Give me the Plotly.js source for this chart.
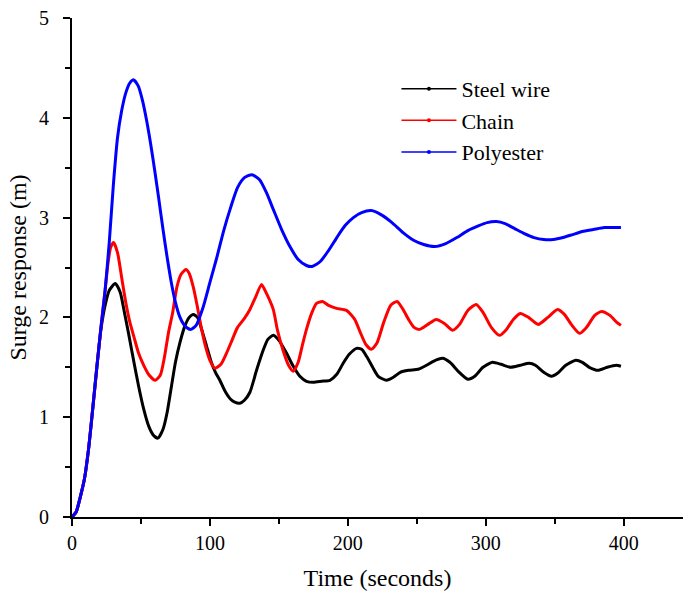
<!DOCTYPE html>
<html>
<head>
<meta charset="utf-8">
<script src="https://cdn.plot.ly/plotly-3.0.1.min.js"></script>
<style>html,body{margin:0;padding:0;background:#fff;}#chart{width:683px;height:592px;}</style>
</head>
<body>
<div id="chart"></div>
<script>
// Time (s) and surge response (m)
const steelT = [0, 3, 6, 9, 12, 15, 18, 21, 24, 27, 31.4, 35, 38, 41, 44.5, 48.3, 52, 55.6, 59, 62.3, 66, 69, 72, 75, 78.3, 82, 85, 87.9, 91, 94, 97.6, 101, 104, 107.2, 111, 115, 118, 121.7, 125, 129, 133.8, 138.6, 142, 146, 150, 155.6, 160, 165.2, 170, 175, 181, 187, 192, 196.6, 201, 206.3, 210, 214, 218, 222, 228, 233, 238, 244, 251, 257, 262, 268.6, 274, 280, 287, 292, 298, 304.8, 311, 318, 325, 331.4, 336, 342, 347.6, 352, 358, 365.2, 370, 375, 381.4, 388, 394.7, 398];
const steelV = [0, 0.05, 0.2, 0.38, 0.68, 1.08, 1.5, 1.88, 2.12, 2.27, 2.34, 2.25, 2.05, 1.84, 1.58, 1.31, 1.08, 0.91, 0.82, 0.79, 0.88, 1.05, 1.3, 1.55, 1.75, 1.92, 2.0, 2.03, 2.0, 1.88, 1.71, 1.55, 1.45, 1.37, 1.26, 1.18, 1.15, 1.14, 1.17, 1.25, 1.47, 1.67, 1.78, 1.82, 1.77, 1.64, 1.52, 1.41, 1.36, 1.35, 1.36, 1.37, 1.43, 1.54, 1.63, 1.69, 1.68, 1.6, 1.5, 1.41, 1.37, 1.4, 1.45, 1.47, 1.48, 1.52, 1.56, 1.59, 1.55, 1.46, 1.38, 1.41, 1.5, 1.55, 1.53, 1.50, 1.52, 1.54, 1.52, 1.45, 1.41, 1.44, 1.52, 1.57, 1.55, 1.5, 1.47, 1.50, 1.52, 1.51];

const chainT = [0, 3, 6, 9, 12, 15, 18, 21, 24, 26, 28, 30.2, 33, 36, 39, 42, 45, 48.3, 52, 56, 60.4, 64, 67, 70, 73, 76, 79, 82.6, 85, 88, 91, 94, 97, 100, 103.6, 108, 112, 116, 120, 125, 129, 133, 137.4, 141, 145.9, 149, 153, 157, 160.4, 164, 167, 170, 174, 177.3, 181.6, 186, 191.8, 199, 205, 208.7, 213, 217, 221, 226, 231, 235.7, 240, 244, 248, 252, 258, 264, 270, 276, 281, 287, 293, 298, 304, 310, 315, 320, 325, 331, 338, 345, 352, 357, 362, 368, 373, 379, 384, 390, 395, 398];
const chainV = [0, 0.05, 0.2, 0.38, 0.68, 1.08, 1.5, 1.9, 2.27, 2.53, 2.7, 2.75, 2.65, 2.4, 2.15, 1.95, 1.8, 1.64, 1.52, 1.42, 1.37, 1.42, 1.6, 1.85, 2.05, 2.3, 2.43, 2.48, 2.44, 2.3, 2.1, 1.88, 1.7, 1.57, 1.49, 1.53, 1.64, 1.77, 1.9, 1.99, 2.08, 2.2, 2.33, 2.24, 2.08, 1.87, 1.67, 1.52, 1.46, 1.55, 1.72, 1.88, 2.05, 2.14, 2.16, 2.12, 2.09, 2.07, 1.98, 1.86, 1.73, 1.68, 1.74, 1.95, 2.12, 2.16, 2.08, 1.98, 1.9, 1.88, 1.93, 1.98, 1.94, 1.87, 1.93, 2.07, 2.13, 2.05, 1.9, 1.82, 1.88, 1.98, 2.04, 2.0, 1.93, 2.0, 2.08, 2.03, 1.93, 1.84, 1.9, 2.02, 2.06, 2.02, 1.95, 1.92];

const polyT = [0, 3, 6, 9, 12, 15, 18, 21, 24, 27, 30, 33, 36, 39, 42, 44.7, 48, 51, 54, 57, 60, 63, 66, 69, 72, 75, 78, 81, 84, 86.3, 90, 95, 100, 105, 110, 115, 120, 125, 130.5, 136, 141, 146, 152, 158, 164, 170, 174, 180, 186, 192, 198, 204, 210, 217, 224, 232, 240, 248, 255, 263, 271, 279, 287, 295, 301, 307.7, 314, 321, 328, 335, 342, 349, 356, 363, 370, 378, 386, 392, 398];
const polyV = [0, 0.05, 0.2, 0.38, 0.68, 1.08, 1.5, 1.9, 2.27, 2.75, 3.33, 3.8, 4.07, 4.25, 4.35, 4.38, 4.32, 4.18, 3.98, 3.74, 3.47, 3.18, 2.88, 2.6, 2.35, 2.15, 2.01, 1.93, 1.89, 1.88, 1.92, 2.1, 2.35, 2.6, 2.87, 3.1, 3.3, 3.4, 3.43, 3.38, 3.25, 3.08, 2.88, 2.71, 2.58, 2.52, 2.51, 2.56, 2.67, 2.8, 2.92, 3.0, 3.05, 3.07, 3.03, 2.95, 2.85, 2.77, 2.73, 2.71, 2.74, 2.8, 2.87, 2.92, 2.95, 2.96, 2.94, 2.89, 2.84, 2.8, 2.78, 2.78, 2.8, 2.83, 2.86, 2.88, 2.9, 2.9, 2.9];

const seriesNames = ['Steel wire', 'Chain', 'Polyester'];
const seriesColors = ['#000000', '#ff0000', '#0000ff'];
const xTicks = [0, 100, 200, 300, 400];
const yTicks = [0, 1, 2, 3, 4, 5];

const xs = [steelT, chainT, polyT];
const ys = [steelV, chainV, polyV];

const traces = [];
for (let i = 0; i < 3; i++) {
  traces.push({
    x: xs[i], y: ys[i], type: 'scatter', mode: 'lines',
    line: {color: seriesColors[i], width: 3, shape: 'spline', smoothing: 0.6},
    showlegend: false, hoverinfo: 'skip'
  });
}
// legend-only entries (line with a small dot, Origin style)
for (let i = 0; i < 3; i++) {
  traces.push({
    x: [null], y: [null], type: 'scatter', mode: 'lines+markers',
    name: seriesNames[i],
    line: {color: seriesColors[i], width: 1.5},
    marker: {color: seriesColors[i], size: 4},
    showlegend: true
  });
}

const font = 'Liberation Serif, DejaVu Serif, Noto Serif, Times New Roman, Times, serif';
const layout = {
  width: 683, height: 592,
  margin: {l: 72, r: 0, t: 18, b: 75},
  paper_bgcolor: '#ffffff', plot_bgcolor: '#ffffff',
  font: {family: font, color: '#000', size: 20},
  showlegend: true,
  legend: {
    x: 0.531, y: 0.90, xanchor: 'left', yanchor: 'top',
    bgcolor: 'rgba(0,0,0,0)', borderwidth: 0,
    font: {family: font, size: 22, color: '#000'},
    itemwidth: 55, tracegroupgap: 0
  },
  xaxis: {
    range: [0, 443], tickvals: xTicks, ticktext: xTicks.map(String),
    showline: true, linecolor: '#000', linewidth: 2,
    ticks: 'outside', ticklen: 7, tickwidth: 2, tickcolor: '#000',
    minor: {dtick: 50, tick0: 0, ticks: 'outside', ticklen: 5, tickwidth: 2, tickcolor: '#000', showgrid: false},
    showgrid: false, zeroline: false,
    tickfont: {family: font, size: 20, color: '#000'},
    ticklabelstandoff: 0,
    title: {text: 'Time (seconds)', font: {family: font, size: 24, color: '#000'}, standoff: 16}
  },
  yaxis: {
    range: [0, 5], tickvals: yTicks, ticktext: yTicks.map(String),
    showline: true, linecolor: '#000', linewidth: 2,
    ticks: 'outside', ticklen: 7, tickwidth: 2, tickcolor: '#000',
    minor: {dtick: 0.5, tick0: 0, ticks: 'outside', ticklen: 5, tickwidth: 2, tickcolor: '#000', showgrid: false},
    showgrid: false, zeroline: false,
    tickfont: {family: font, size: 20, color: '#000'},
    ticklabelstandoff: 10,
    title: {text: 'Surge response (m)', font: {family: font, size: 24, color: '#000'}, standoff: 6}
  }
};

Plotly.newPlot('chart', traces, layout, {staticPlot: true, displayModeBar: false});
</script>
</body>
</html>
